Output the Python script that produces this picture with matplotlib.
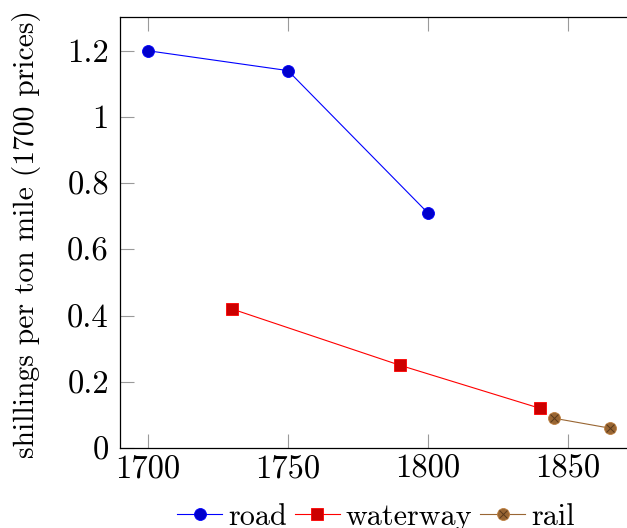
import matplotlib
matplotlib.use("Agg")
import matplotlib.pyplot as plt
from matplotlib.legend_handler import HandlerTuple

plt.rcParams["font.family"] = "serif"
plt.rcParams["font.serif"] = ["cmr10", "DejaVu Serif"]
plt.rcParams["axes.formatter.use_mathtext"] = True

# ── data ──────────────────────────────────────────────────────────────────────
road_years = [1700, 1750, 1800]
road_cost = [1.20, 1.14, 0.71]

water_years = [1730, 1790, 1840]
water_cost = [0.42, 0.25, 0.12]

rail_years = [1845, 1865]
rail_cost = [0.09, 0.06]

x_ticks = [1700, 1750, 1800, 1850]
y_ticks = [0, 0.2, 0.4, 0.6, 0.8, 1.0, 1.2]
y_tick_labels = ["0", "0.2", "0.4", "0.6", "0.8", "1", "1.2"]

FS_TICK = 23.5
FS_LABEL = 21.3
FS_LEG = 21.7
MS = 8.6

fig = plt.figure(figsize=(6.27, 5.28), dpi=100)
ax = fig.add_axes([120 / 627, 1 - 448 / 528, 536 / 627, 430.7 / 528])

h_road, = ax.plot(road_years, road_cost, color=(0, 0, 1), lw=0.8,
                  marker="o", ms=MS, mfc=(0, 0, 0.8), mec=(0, 0, 1), mew=0.6)
h_water, = ax.plot(water_years, water_cost, color=(1, 0, 0), lw=0.8,
                   marker="s", ms=MS * 0.95, mfc=(0.8, 0, 0), mec=(1, 0, 0), mew=0.6)
brown = (0.75, 0.5, 0.25)
h_rail, = ax.plot(rail_years, rail_cost, color=(0.6, 0.4, 0.2), lw=0.8,
                  marker="o", ms=MS, mfc=(0.6, 0.4, 0.2), mec=brown, mew=0.6)
# the cross inside the rail markers (pgfplots "otimes*")
h_railx, = ax.plot(rail_years, rail_cost, ls="none", marker="x", ms=MS * 0.6,
                   mec=(0.35, 0.22, 0.1), mew=0.7)

ax.set_xlim(1690, 1881.5)
ax.set_ylim(0, 1.301)
ax.set_xticks(x_ticks)
ax.set_xticklabels([str(v) for v in x_ticks])
ax.set_yticks(y_ticks)
ax.set_yticklabels(y_tick_labels)
ax.tick_params(direction="in", length=10, width=0.8, color="#9a9a9a",
               top=True, right=True, labelsize=FS_TICK)
ax.tick_params(axis="y", pad=8)
ax.tick_params(axis="x", pad=5)
for sp in ax.spines.values():
    sp.set_linewidth(0.9)

ax.set_ylabel("shillings per ton mile (1700 prices)", fontsize=FS_LABEL)
ax.yaxis.set_label_coords(-0.1465, 0.497)

fig.legend([h_road, h_water, (h_rail, h_railx)], ["road", "waterway", "rail"],
           loc="center", bbox_to_anchor=(376 / 627, 1 - 517 / 528), ncol=3,
           frameon=False, fontsize=FS_LEG, handlelength=1.5, handletextpad=0.2,
           columnspacing=0.25, borderpad=0, borderaxespad=0,
           handler_map={tuple: HandlerTuple(ndivide=1)})

fig.savefig("out.png", dpi=100)
